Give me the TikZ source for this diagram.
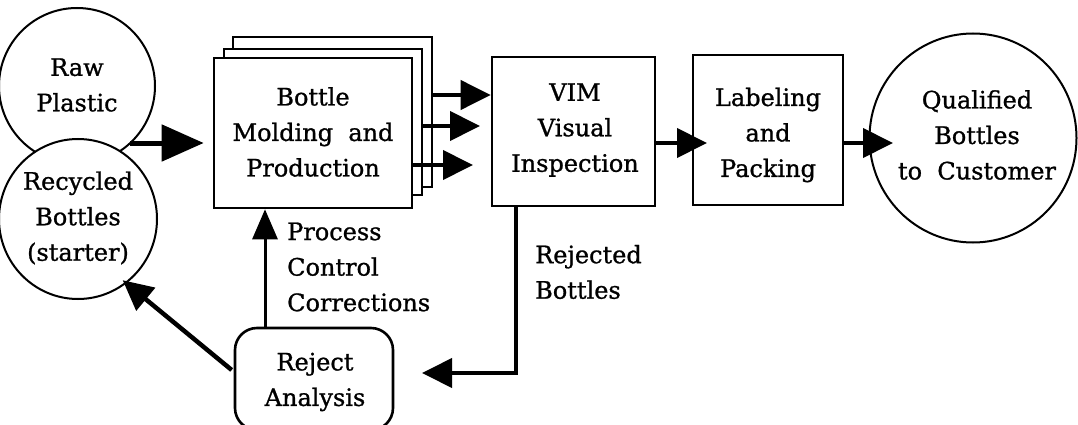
\documentclass[tikz,border=0pt]{standalone}
\usepackage{fontspec}
\setmainfont{DejaVu Serif}[FakeBold=1]
\usetikzlibrary{arrows.meta,shapes.geometric,calc}
\tikzset{
  txt/.style={font=\fontsize{24}{35.5}\selectfont, align=center, inner sep=0pt},
  ltxt/.style={font=\fontsize{24}{35.5}\selectfont, align=left, inner sep=0pt},
  blk/.style={draw, line width=2.6pt, fill=white, rectangle, inner sep=0pt},
  circ/.style={draw, line width=2pt, fill=white, ellipse, inner sep=0pt},
  arr/.style={line width=4pt, -{Triangle[length=30pt,width=29pt]}},
  bigarr/.style={line width=5pt, -{Triangle[length=42pt,width=36pt]}},
  thinarr/.style={line width=3pt, -{Triangle[length=30pt,width=25pt]}}
}
\begin{document}
\begin{tikzpicture}[x=1pt,y=-1pt]
\useasboundingbox (0,0) rectangle (1078,425);
% circles
\node[circ, minimum width=156pt, minimum height=156pt] (raw) at (77,86) {};
\node[txt] at (77,85) {Raw\\Plastic};
\node[circ, minimum width=158pt, minimum height=160pt] (rec) at (78,219) {};
\node[txt] at (78,218) {Recycled\\Bottles\\(starter)};
% stacked molding boxes
\node[blk, minimum width=199pt, minimum height=150pt] (back) at (332.5,112) {};
\node[blk, minimum width=198pt, minimum height=146pt] (mid) at (323,122) {};
\node[blk, minimum width=198pt, minimum height=150pt] (mold) at (313,133) {};
\node[txt] at (313,132) {Bottle\\Molding~ and\\Production};
% VIM
\node[blk, minimum width=163pt, minimum height=149pt] (vim) at (573.5,131.5) {};
\node[txt] at (575,130) {VIM\\Visual\\Inspection};
% Labeling
\node[blk, minimum width=150pt, minimum height=150pt] (lab) at (768,130) {};
\node[txt] at (768,135) {Labeling\\and\\Packing};
% Qualified
\node[circ, minimum width=207pt, minimum height=209pt] (qual) at (973,138) {};
\node[txt] at (977,135) {Qualified\\Bottles\\to~ Customer};
% Reject analysis
\node[blk, rounded corners=22pt, minimum width=158pt, minimum height=102pt] (rej) at (314,379) {};
\node[txt] at (315,382) {Reject\\Analysis};
% labels
\node[ltxt, anchor=west] (pcc) at (287,267) {Process\\Control\\Corrections};
\node[ltxt, anchor=west] (rjb) at (535,272) {Rejected\\Bottles};
% coordinates
\coordinate (j) at (130,143);
\coordinate (a2) at (480,126);
\coordinate (a3) at (473,165);
\coordinate (rc) at (516,373);
\coordinate (rt) at (422,373);
\coordinate (lt) at (707,143);
\coordinate (qt) at (893,143);
% connectors
\draw[bigarr] (j) -- ($(mold.west |- j)+(-9,0)$);
\draw[arr] (back.east |- 0,95) -- (vim.west |- 0,95);
\draw[arr] (mid.east |- a2) -- (a2);
\draw[arr] (mold.east |- a3) -- (a3);
\draw[arr] (vim.east |- lt) -- (lt);
\draw[arr] (lab.east |- qt) -- (qt);
\draw[thinarr] (rej.north -| 265,0) -- (mold.south -| 265,0);
\draw[arr, line width=4.5pt, shorten >=-5pt] ($(rej.west)+(-2,-9)$) -- (rec.-53);
\draw[arr, line width=4pt, line join=miter] (vim.south -| rc) -- (rc) -- (rt);
\end{tikzpicture}
\end{document}
